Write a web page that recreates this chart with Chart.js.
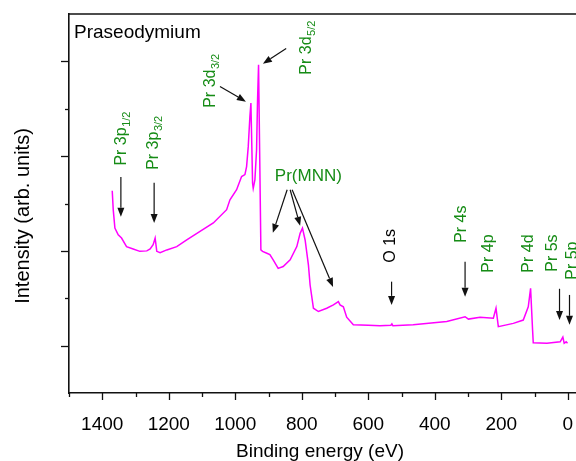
<!DOCTYPE html>
<html><head><meta charset="utf-8">
<script src="https://cdn.jsdelivr.net/npm/chart.js@4.4.1/dist/chart.umd.min.js"></script>
<style>html,body{margin:0;padding:0;overflow:hidden;background:#fff;width:576px;height:461px}
#wrap{width:640px;height:461px;position:relative}</style></head>
<body><div id="wrap"><canvas id="c" width="640" height="461"></canvas></div>
<script>
// Binding energy (eV) and intensity (arb. units)
const energy = [1370,1367,1362,1352,1342,1327,1307,1287,1266,1256,1247,1241,1236,1226,1206,1176,1146,1106,1066,1026,
  1016,996,981,971,966,961,956,953,950,948,946,941,936,933,930,923,918,905,
  896,886,871,856,835,815,805,798,790,780,775,765,750,725,705,690,685,675,665,645,
  600,565,532,529,526,465,364,309,299,264,224,216,209,164,134,119,112,106,104,63,
  23,15,11,5,1];
const intensity = [4.27,3.87,3.48,3.34,3.27,3.09,3.04,2.99,3.00,3.04,3.13,3.27,2.99,2.96,3.02,3.09,3.23,3.41,3.59,3.87,
  4.08,4.29,4.57,4.61,4.78,5.20,5.84,6.12,5.13,4.43,4.32,4.50,5.13,6.19,6.93,3.02,2.99,2.95,
  2.92,2.81,2.63,2.67,2.81,3.09,3.37,3.48,3.23,2.70,2.28,1.79,1.72,1.79,1.86,1.93,1.86,1.82,1.60,1.44,
  1.43,1.42,1.43,1.46,1.42,1.44,1.51,1.61,1.56,1.60,1.58,1.79,1.40,1.47,1.54,1.82,2.21,1.33,1.06,1.05,
  1.08,1.18,1.05,1.08,1.05];

// x tick values (every 100 eV, labelled every 200 eV)
const xTickValues = [1500,1400,1300,1200,1100,1000,900,800,700,600,500,400,300,200,100,0];
const xTickLabels = ['','1400','','1200','','1000','','800','','600','','400','','200','','0'];
const yTickValues = [1,2,3,4,5,6,7];

// peak annotations (anchor in data units)
const labelMain = ['Pr 3p','Pr 3p','Pr 3d','Pr 3d','Pr(MNN)','O 1s','Pr 4s','Pr 4p','Pr 4d','Pr 5s','Pr 5p'];
const labelSub  = ['1/2','3/2','3/2','5/2','','','','','','',''];
const labelE    = [1329,1232,1062,771,881,520,306,225,105,32,-29];
const labelI    = [4.80,4.71,6.02,6.72,4.48,2.75,3.17,2.54,2.54,2.56,2.39];
const labelRotated = [true,true,true,true,false,true,true,true,true,true,true];
const labelIsGreen = [true,true,true,true,true,false,true,true,true,true,true];

// arrows (from -> to, data units)
const arrowFromE = [1344,1244,1046,847,844,835,829,530,309,25,-5];
const arrowFromI = [4.56,4.44,6.47,7.27,4.29,4.29,4.29,2.35,2.77,2.20,2.07];
const arrowToE   = [1344,1244,968,917,887,805,706,530,309,25,-5];
const arrowToI   = [3.72,3.59,6.15,6.95,3.38,3.53,2.24,1.86,2.03,1.54,1.44];

const FONT = '"Liberation Sans", Arial, sans-serif';
const GREEN = '#168c16';

const points = energy.map((e,i)=>({x:e, y:intensity[i]}));

const decor = {
  id:'decor',
  afterDraw(chart){
    const {ctx, chartArea:a, scales:{x, y}} = chart;
    ctx.save();
    // top frame line
    ctx.strokeStyle = '#111'; ctx.lineWidth = 1.6;
    ctx.beginPath(); ctx.moveTo(a.left, a.top); ctx.lineTo(a.right, a.top); ctx.stroke();
    // x ticks
    ctx.lineWidth = 1.3;
    xTickValues.forEach((v,i)=>{
      const px = Math.round(x.getPixelForValue(v))+0.5;
      const len = xTickLabels[i] !== '' ? 7 : 4;
      ctx.beginPath(); ctx.moveTo(px, a.bottom); ctx.lineTo(px, a.bottom+len); ctx.stroke();
    });
    yTickValues.forEach(v=>{
      const py = Math.round(y.getPixelForValue(v))+0.5;
      const len = v % 2 === 1 ? 8 : 4;
      ctx.beginPath(); ctx.moveTo(a.left, py); ctx.lineTo(a.left-len, py); ctx.stroke();
    });
    // titles
    ctx.fillStyle = '#000';
    ctx.font = '19px ' + FONT;
    ctx.textAlign = 'center'; ctx.textBaseline = 'alphabetic';
    ctx.fillText('Binding energy (eV)', 320, 457);
    ctx.save();
    ctx.translate(29, 216); ctx.rotate(-Math.PI/2);
    ctx.font = '20px ' + FONT;
    ctx.fillText('Intensity (arb. units)', 0, 0);
    ctx.restore();
    // sample name
    ctx.textAlign = 'left';
    ctx.font = '19px ' + FONT;
    ctx.fillText('Praseodymium', a.left+5, a.top+24);
    // peak labels
    labelMain.forEach((t,i)=>{
      const px = x.getPixelForValue(labelE[i]);
      const py = y.getPixelForValue(labelI[i]);
      ctx.fillStyle = labelIsGreen[i] ? GREEN : '#000';
      ctx.save();
      ctx.translate(px, py);
      if (labelRotated[i]) ctx.rotate(-Math.PI/2);
      ctx.font = (labelRotated[i] ? '16px ' : '17px ') + FONT;
      ctx.textAlign = 'left'; ctx.textBaseline = 'alphabetic';
      ctx.fillText(t, 0, 0);
      if (labelSub[i]) {
        const w = ctx.measureText(t).width;
        ctx.font = '11px ' + FONT;
        ctx.fillText(labelSub[i], w+0.5, 4);
      }
      ctx.restore();
    });
    // arrows
    ctx.strokeStyle = '#111'; ctx.fillStyle = '#111'; ctx.lineWidth = 1.2;
    arrowFromE.forEach((e,i)=>{
      const x1 = x.getPixelForValue(e), y1 = y.getPixelForValue(arrowFromI[i]);
      const x2 = x.getPixelForValue(arrowToE[i]), y2 = y.getPixelForValue(arrowToI[i]);
      const ang = Math.atan2(y2-y1, x2-x1);
      const hl = 9, hw = 3.5;
      const bx = x2 - hl*Math.cos(ang), by = y2 - hl*Math.sin(ang);
      ctx.beginPath(); ctx.moveTo(x1,y1); ctx.lineTo(bx,by); ctx.stroke();
      ctx.beginPath();
      ctx.moveTo(x2,y2);
      ctx.lineTo(bx + hw*Math.sin(ang), by - hw*Math.cos(ang));
      ctx.lineTo(bx - hw*Math.sin(ang), by + hw*Math.cos(ang));
      ctx.closePath(); ctx.fill();
    });
    ctx.restore();
  }
};

new Chart(document.getElementById('c'), {
  type:'line',
  data:{datasets:[{data:points, borderColor:'#ff00ff', borderWidth:1.5, pointRadius:0, tension:0, fill:false}]},
  options:{
    responsive:false, animation:false,
    layout:{padding:{top:14, right:0, left:0, bottom:0}},
    plugins:{legend:{display:false}, tooltip:{enabled:false}},
    scales:{
      x:{type:'linear', reverse:true, min:-217, max:1500,
        afterBuildTicks:(s)=>{ s.ticks = xTickValues.map(v=>({value:v})); },
        afterFit:(s)=>{ s.height = 68; },
        grid:{display:false},
        border:{display:true, color:'#111', width:1.6},
        ticks:{autoSkip:false, maxRotation:0, padding:12, color:'#000',
          font:{family:FONT, size:19},
          callback:(v,i)=>xTickLabels[i]}
      },
      y:{type:'linear', min:0, max:8,
        afterFit:(s)=>{ s.width = 69; },
        grid:{display:false},
        border:{display:true, color:'#111', width:1.6},
        ticks:{display:false}
      }
    }
  },
  plugins:[decor]
});
</script>
</body></html>
